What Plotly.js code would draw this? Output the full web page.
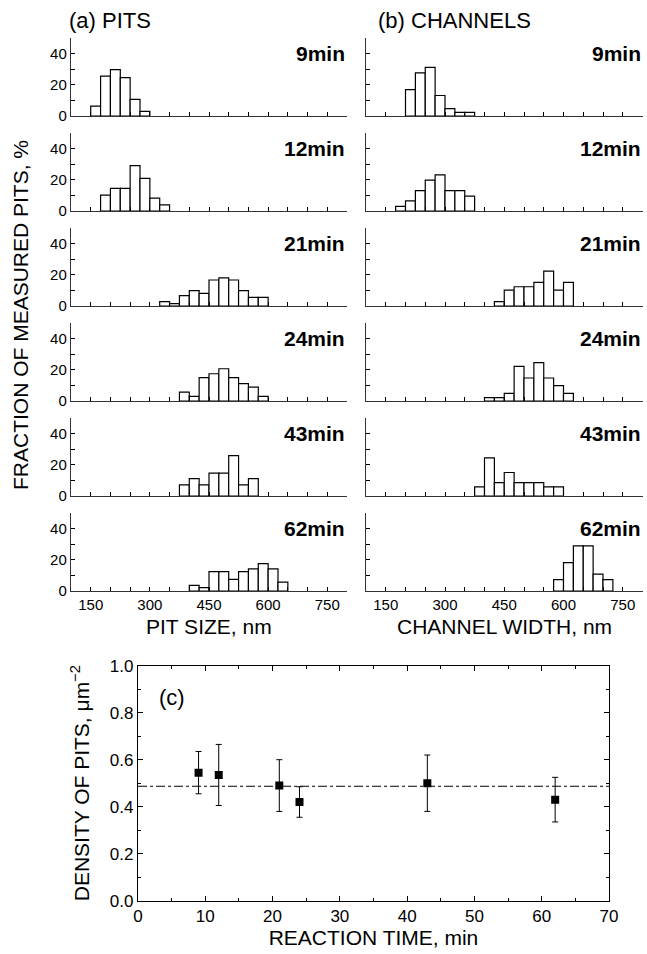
<!DOCTYPE html>
<html>
<head>
<meta charset="utf-8">
<script src="https://cdn.plot.ly/plotly-3.0.1.min.js"></script>
<style>html,body{margin:0;padding:0;background:#fff;}#chart{width:647px;height:954px;}</style>
</head>
<body>
<div id="chart"></div>
<script>
// ---- data ----
const times = ["9min", "12min", "21min", "24min", "43min", "62min"];
const binWidth = 25;
// (a) PITS: first bin left edge and percentages
const pitsStart = [150, 175, 325, 375, 375, 400];
const pits9  = [6.3, 25.4, 29.6, 24.5, 10.6, 3.0];
const pits12 = [10.2, 14.5, 14.5, 29.0, 20.8, 8.2, 3.9];
const pits21 = [2.8, 1.5, 6.6, 9.8, 8.1, 16.6, 17.9, 16.6, 9.8, 5.5, 5.5];
const pits24 = [5.7, 3.0, 14.9, 17.4, 20.6, 14.9, 11.1, 8.9, 3.0];
const pits43 = [7.1, 11.1, 7.1, 14.6, 14.6, 25.8, 7.1, 11.1];
const pits62 = [3.6, 2.1, 12.4, 12.4, 7.4, 12.4, 14.1, 17.5, 14.1, 5.7];
// (b) CHANNELS
const chanStart = [200, 175, 425, 400, 375, 575];
const chan9  = [16.9, 27.5, 31.1, 13.1, 4.7, 2.3, 2.3];
const chan12 = [3.0, 6.5, 13.0, 19.7, 23.1, 13.0, 13.0, 9.5];
const chan21 = [2.8, 10.2, 12.3, 12.3, 15.1, 22.3, 10.2, 15.1];
const chan24 = [2.1, 2.1, 4.9, 22.1, 14.7, 24.5, 14.7, 9.8, 4.9];
const chan43 = [5.8, 24.3, 8.6, 15.0, 8.6, 8.6, 8.6, 5.8, 5.8];
const chan62 = [7.3, 18.1, 28.8, 28.8, 10.8, 7.3];
// (c) density of pits
const reactionTime = [9, 12, 21, 24, 43, 62];
const density = [0.545, 0.535, 0.49, 0.42, 0.50, 0.43];
const densityErr = [0.09, 0.13, 0.11, 0.065, 0.12, 0.095];
const meanDensity = 0.487;
const xTickVals = [150, 300, 450, 600, 750];

const pitsData = [pits9, pits12, pits21, pits24, pits43, pits62];
const chanData = [chan9, chan12, chan21, chan24, chan43, chan62];

// ---- geometry ----
const W = 647, H = 954;
const px = v => v / W;
const py = v => 1 - v / H;
const colX = [[71, 347], [366, 642.5]];
const rowTop0 = 37.7, rowH = 78.3, rowStep = 95.0;
const FONT = "Liberation Sans, Arial, Helvetica, sans-serif";

const traces = [];
const layout = {
  width: W, height: H,
  margin: {l: 0, r: 0, t: 0, b: 0},
  paper_bgcolor: "#fff", plot_bgcolor: "#fff",
  showlegend: false,
  bargap: 0,
  font: {family: FONT, color: "#000", size: 15},
  annotations: [], shapes: []
};

function centers(start, n) {
  const c = [];
  for (let i = 0; i < n; i++) c.push(start + binWidth * (i + 0.5));
  return c;
}

let k = 0;
for (let r = 0; r < 6; r++) {
  for (let c = 0; c < 2; c++) {
    k++;
    const vals = c === 0 ? pitsData[r] : chanData[r];
    const start = c === 0 ? pitsStart[r] : chanStart[r];
    const xa = "x" + k, ya = "y" + k;
    traces.push({
      type: "bar", x: centers(start, vals.length), y: vals, width: binWidth,
      xaxis: xa, yaxis: ya,
      marker: {color: "#fff", line: {color: "#000", width: 1.2}},
      hoverinfo: "none"
    });
    const top = rowTop0 + r * rowStep;
    layout["xaxis" + k] = {
      domain: [px(colX[c][0]), px(colX[c][1])],
      anchor: ya, range: [100, 800],
      tickmode: "array", tickvals: xTickVals,
      showticklabels: r === 5,
      ticks: "inside", ticklen: 4, tickwidth: 1, tickcolor: "#000",
      minor: {ticks: "inside", tickmode: "array", tickvals: [100,200,250,350,400,500,550,650,700,800], ticklen: 4, tickcolor: "#000"},
      showline: true, linecolor: "#333", linewidth: 1.2,
      showgrid: false, zeroline: false,
      tickfont: {size: 15, family: FONT},
      fixedrange: true
    };
    layout["yaxis" + k] = {
      domain: [py(top + rowH), py(top)],
      anchor: xa, range: [0, 50],
      tickmode: "array", tickvals: [0, 20, 40],
      showticklabels: c === 0,
      ticks: "inside", ticklen: 4, tickwidth: 1, tickcolor: "#000",
      minor: {ticks: "inside", tickmode: "array", tickvals: [10, 30, 50], ticklen: 4, tickcolor: "#000"},
      showline: true, linecolor: "#333", linewidth: 1.2,
      showgrid: false, zeroline: false,
      tickfont: {size: 15, family: FONT},
      fixedrange: true
    };
    layout.annotations.push({
      xref: "paper", yref: "paper",
      x: px(colX[c][1]), y: py(top + 16),
      xanchor: "right", yanchor: "middle",
      text: "<b>" + times[r] + "</b>", showarrow: false,
      font: {size: 21, family: FONT, color: "#000"}
    });
  }
}

// panel titles
layout.annotations.push({xref: "paper", yref: "paper", x: px(67), y: py(21), xanchor: "left", yanchor: "middle",
  text: "(a) PITS", showarrow: false, font: {size: 22, family: FONT}});
layout.annotations.push({xref: "paper", yref: "paper", x: px(376), y: py(21), xanchor: "left", yanchor: "middle",
  text: "(b) CHANNELS", showarrow: false, font: {size: 22, family: FONT}});
// x titles
layout.annotations.push({xref: "paper", yref: "paper", x: px(209), y: py(626), xanchor: "center", yanchor: "middle",
  text: "PIT SIZE, nm", showarrow: false, font: {size: 21, family: FONT}});
layout.annotations.push({xref: "paper", yref: "paper", x: px(504), y: py(626), xanchor: "center", yanchor: "middle",
  text: "CHANNEL WIDTH, nm", showarrow: false, font: {size: 21, family: FONT}});
// shared y title
layout.annotations.push({xref: "paper", yref: "paper", x: px(20), y: py(315), xanchor: "center", yanchor: "middle",
  text: "FRACTION OF MEASURED PITS, %", textangle: -90, showarrow: false, font: {size: 21, family: FONT}});

// ---- (c) ----
traces.push({
  type: "scatter", mode: "markers", x: reactionTime, y: density,
  xaxis: "x13", yaxis: "y13",
  marker: {symbol: "square", size: 8, color: "#000"},
  error_y: {type: "data", array: densityErr, visible: true, color: "#000", thickness: 1, width: 3},
  hoverinfo: "none"
});
traces.push({
  type: "scatter", mode: "lines", x: [0, 70], y: [meanDensity, meanDensity],
  xaxis: "x13", yaxis: "y13",
  line: {color: "#000", width: 1, dash: "dashdot"}, hoverinfo: "none"
});
layout.xaxis13 = {
  domain: [px(138), px(609)], anchor: "y13", range: [0, 70],
  tick0: 0, dtick: 10, ticks: "inside", ticklen: 5, tickcolor: "#000",
  minor: {ticks: "inside", dtick: 5, ticklen: 3, tickcolor: "#000"},
  showline: true, mirror: "ticks", linecolor: "#000", linewidth: 1.2,
  showgrid: false, zeroline: false, tickfont: {size: 17, family: FONT},
  title: {text: "REACTION TIME, min", font: {size: 21, family: FONT}, standoff: 4},
  fixedrange: true
};
layout.yaxis13 = {
  domain: [py(900.7), py(665.7)], anchor: "x13", range: [0, 1],
  tick0: 0, dtick: 0.2, tickformat: ".1f", ticks: "inside", ticklen: 5, tickcolor: "#000",
  minor: {ticks: "inside", dtick: 0.1, ticklen: 3, tickcolor: "#000"},
  showline: true, mirror: "ticks", linecolor: "#000", linewidth: 1.2,
  showgrid: false, zeroline: false, tickfont: {size: 17, family: FONT},
  title: {text: "DENSITY OF PITS, \u03bcm<sup>\u22122</sup>", font: {size: 21, family: FONT}, standoff: 14},
  fixedrange: true
};
layout.annotations.push({xref: "paper", yref: "paper", x: px(157), y: py(697), xanchor: "left", yanchor: "middle",
  text: "(c)", showarrow: false, font: {size: 22, family: FONT}});

Plotly.newPlot("chart", traces, layout, {staticPlot: true, displayModeBar: false});
</script>
</body>
</html>
